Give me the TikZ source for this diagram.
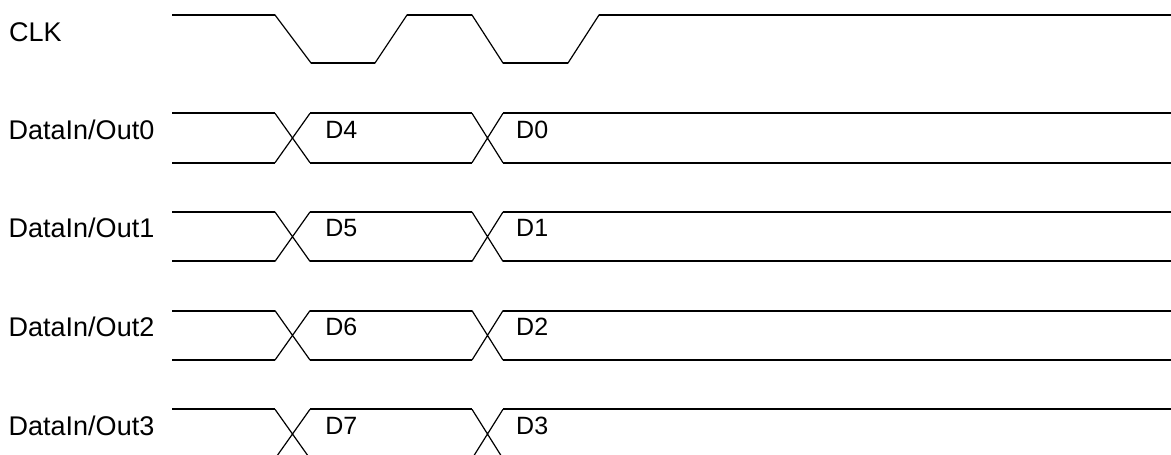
\documentclass[tikz,border=0pt]{standalone}
\usepackage{fontspec}
\setmainfont{Liberation Sans}
\tikzset{
  signame/.style = {anchor=base west, inner sep=0pt, font=\fontsize{27}{32}\selectfont},
  dataval/.style = {anchor=base west, inner sep=0pt, font=\fontsize{25}{30}\selectfont},
  hiline/.style  = {line width=2pt},
  slant/.style   = {line width=1.2pt, line join=miter}
}

\begin{document}
\begin{tikzpicture}[x=1pt, y=-1pt]
\clip (0,0) rectangle (1171,455);

% clock signal
\node[signame] (clk) at (9,41.7) {CLK};
\draw[slant] (172,15) -- (275,15) -- (311,63) -- (375,63) -- (407,15) -- (472,15)
  -- (503,63) -- (568,63) -- (599,15) -- (1171,15);
\foreach \xa/\xb/\y in {172/275/15, 311/375/63, 407/472/15, 503/568/63, 599/1171/15}
  \draw[hiline] (\xa,\y) -- (\xb,\y);

% data lines, one bus per row
\foreach \i/\first/\second in {0/D4/D0, 1/D5/D1, 2/D6/D2, 3/D7/D3}{
  \pgfmathsetmacro{\ytop}{113.3+98.67*\i}
  \pgfmathsetmacro{\ybot}{\ytop+49.4}
  \pgfmathsetmacro{\ymid}{\ytop+24.7}
  \node[signame] (dio\i) at (8.5,\ymid+1) {DataIn/Out\i};
  \node[dataval] (first\i) at (325.2,\ymid) {\first};
  \node[dataval] (second\i) at (516,\ymid) {\second};
  % the crossings
  \draw[slant] (275,\ytop) -- (310,\ybot) (275,\ybot) -- (310,\ytop)
               (472,\ytop) -- (503,\ybot) (472,\ybot) -- (503,\ytop);
  % the levels
  \foreach \xa/\xb in {172/275, 310/472, 503/1171}{
    \draw[hiline] (\xa,\ytop) -- (\xb,\ytop);
    \draw[hiline] (\xa,\ybot) -- (\xb,\ybot);
  }
}
\end{tikzpicture}
\end{document}
